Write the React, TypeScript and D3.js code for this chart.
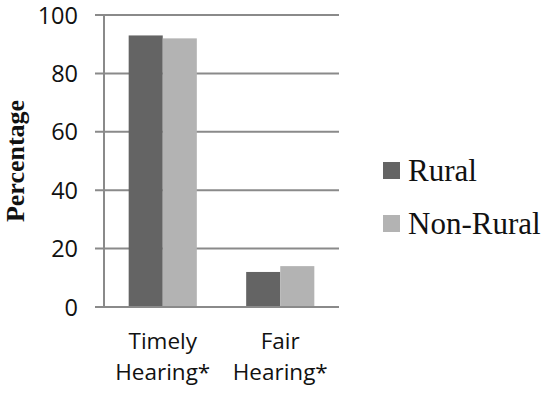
import { useEffect, useRef } from 'react';
import * as d3 from 'd3';

const categories = [['Timely', 'Hearing*'], ['Fair', 'Hearing*']];
const seriesNames = ['Rural', 'Non-Rural'];
const rural = [93, 12];
const nonRural = [92, 14];
const yTicks = [0, 20, 40, 60, 80, 100];

const colors = ['#646464', '#b3b3b3'];
const axisColor = '#8a8a8a';

export default function App() {
  const svgRef = useRef<SVGSVGElement>(null);

  useEffect(() => {
    if (!svgRef.current) return;
    const svg = d3.select(svgRef.current);
    svg.selectAll('*').remove();

    const left = 104;
    const right = 339;
    const top = 15;
    const bottom = 307;

    const x = d3
      .scaleBand<number>()
      .domain(d3.range(categories.length))
      .range([left, right])
      .paddingInner(0.42)
      .paddingOuter(0.21);

    const xs = d3
      .scaleBand<number>()
      .domain(d3.range(seriesNames.length))
      .range([0, x.bandwidth()]);

    const y = d3.scaleLinear().domain([0, 100]).range([bottom, top]);

    // gridlines + tick marks
    svg
      .append('g')
      .selectAll('line')
      .data(yTicks)
      .enter()
      .append('line')
      .attr('x1', left - 9)
      .attr('x2', right)
      .attr('y1', (d) => y(d))
      .attr('y2', (d) => y(d))
      .attr('stroke', axisColor)
      .attr('stroke-width', 2);

    // y axis line
    svg
      .append('line')
      .attr('x1', left)
      .attr('x2', left)
      .attr('y1', top)
      .attr('y2', bottom)
      .attr('stroke', axisColor)
      .attr('stroke-width', 2);

    // tick labels
    svg
      .append('g')
      .selectAll('text')
      .data(yTicks)
      .enter()
      .append('text')
      .attr('x', 78)
      .attr('y', (d) => y(d) + 8.5)
      .attr('text-anchor', 'end')
      .style('font-family', '"Open Sans", sans-serif')
      .style('font-size', '23.5px')
      .style('fill', '#111')
      .text((d) => d);

    // bars
    const series = [rural, nonRural];
    series.forEach((vals, si) => {
      svg
        .append('g')
        .selectAll('rect')
        .data(vals)
        .enter()
        .append('rect')
        .attr('x', (_, i) => (x(i) as number) + (xs(si) as number))
        .attr('y', (d) => y(d))
        .attr('width', xs.bandwidth())
        .attr('height', (d) => bottom - y(d))
        .attr('fill', colors[si]);
    });

    // redraw baseline above bars
    svg
      .append('line')
      .attr('x1', left - 9)
      .attr('x2', right)
      .attr('y1', bottom)
      .attr('y2', bottom)
      .attr('stroke', axisColor)
      .attr('stroke-width', 2);

    // category labels
    const cat = svg
      .append('g')
      .selectAll('text')
      .data(categories)
      .enter()
      .append('text')
      .attr('text-anchor', 'middle')
      .style('font-family', '"Open Sans", sans-serif')
      .style('font-size', '22.5px')
      .style('fill', '#111');
    cat
      .selectAll('tspan')
      .data((d, i) => d.map((t) => ({ t, i })))
      .enter()
      .append('tspan')
      .attr('x', (d) => (x(d.i) as number) + x.bandwidth() / 2)
      .attr('y', (_, j) => 349 + j * 31)
      .text((d) => d.t);

    // y title
    svg
      .append('text')
      .attr('transform', 'translate(24,161) rotate(-90)')
      .attr('text-anchor', 'middle')
      .style('font-family', '"Liberation Serif", serif')
      .style('font-weight', 'bold')
      .style('font-size', '26px')
      .style('fill', '#111')
      .text('Percentage');

    // legend
    const lg = svg
      .append('g')
      .selectAll('g')
      .data(seriesNames)
      .enter()
      .append('g')
      .attr('transform', (_, i) => `translate(383,${162 + i * 53})`);
    lg.append('rect')
      .attr('width', 17)
      .attr('height', 17)
      .attr('fill', (_, i) => colors[i]);
    lg.append('text')
      .attr('x', 25)
      .attr('y', 19)
      .style('font-family', '"Liberation Serif", serif')
      .style('font-size', '31px')
      .style('fill', '#111')
      .text((d) => d);
  }, []);

  return (
    <svg
      ref={svgRef}
      width={550}
      height={393}
      style={{ position: 'absolute', left: 0, top: 0, background: '#fff' }}
    />
  );
}
